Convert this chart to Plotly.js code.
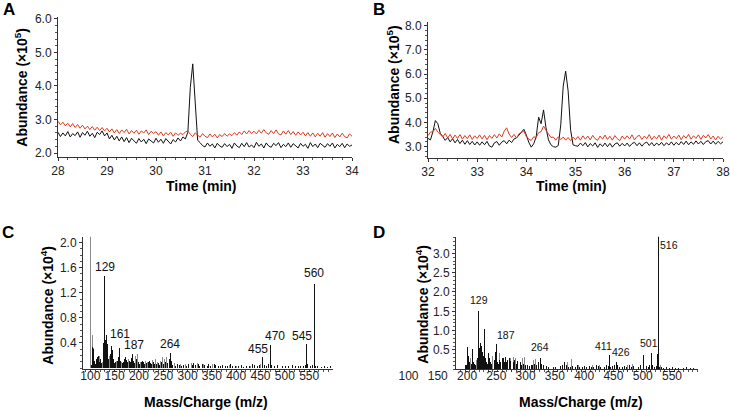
<!DOCTYPE html>
<html><head><meta charset="utf-8">
<script src="https://cdn.plot.ly/plotly-3.0.1.min.js"></script>
<style>html,body{margin:0;padding:0;background:#fff;} #chart{width:730px;height:411px;}</style>
</head><body><div id="chart"></div>
<script>
// ---------- DATA ----------
// Panel A chromatogram (Abundance x10^5), time 28..34 min, step 0.05
const timeA0 = 28, timeStepA = 0.05;
const abundA_black = [
2.62,2.49,2.60,2.51,2.64,2.48,2.58,2.52,2.63,2.47,2.61,2.53,2.65,2.50,2.59,2.46,2.62,2.55,2.66,2.51,2.60,
2.42,2.53,2.39,2.50,2.36,2.48,2.34,2.46,2.31,2.44,2.37,2.29,2.43,2.33,2.41,2.28,2.42,2.35,2.30,2.44,
2.32,2.41,2.29,2.43,2.34,2.27,2.40,2.33,2.45,2.36,2.48,2.42,
2.62,3.95,4.66,3.35,2.38,
2.31,2.22,2.18,2.30,2.20,2.27,2.15,2.29,2.21,2.17,2.28,
2.19,2.26,2.14,2.30,2.21,2.16,2.29,2.19,2.31,2.18,
2.24,2.16,2.32,2.20,2.27,2.15,2.30,2.21,2.17,2.29,
2.22,2.31,2.16,2.26,2.19,2.30,2.17,2.28,2.21,2.15,
2.29,2.20,2.26,2.14,2.31,2.19,2.27,2.16,2.29,2.22,
2.17,2.28,2.20,2.30,2.15,2.26,2.19,2.29,2.16,2.27,
2.20,2.24];
const abundA_red = [
2.95,2.84,2.92,2.81,2.89,2.78,2.88,2.76,2.85,2.74,2.83,2.72,2.80,2.70,2.79,2.68,2.77,2.67,2.76,2.66,2.74,
2.63,2.72,2.60,2.70,2.58,2.69,2.61,2.71,2.57,2.67,2.59,2.68,2.56,2.66,2.60,2.69,2.55,2.65,2.58,2.64,
2.53,2.63,2.51,2.61,2.54,2.62,2.50,2.60,2.53,2.59,2.55,2.63,2.66,2.56,2.49,2.60,2.52,2.47,2.58,2.50,
2.46,2.57,2.48,2.56,2.45,2.55,2.49,2.58,2.50,2.57,2.52,2.61,2.53,2.63,2.55,2.66,2.57,2.67,2.58,2.65,
2.57,2.68,2.59,2.70,2.60,2.56,2.67,2.58,2.69,2.57,2.54,2.66,2.56,2.67,2.55,2.64,2.53,2.63,2.54,2.62,
2.51,2.61,2.50,2.60,2.48,2.59,2.50,2.61,2.47,2.58,2.49,2.60,2.46,2.57,2.48,2.59,2.49,2.45,2.57,2.50];

// Panel B chromatogram (Abundance x10^5), time 32..38 min, step 0.05
const timeB0 = 32, timeStepB = 0.05;
const abundB_black = [
3.34,3.28,3.62,4.08,3.95,3.55,3.42,3.26,3.38,3.20,3.33,3.16,3.30,3.13,3.27,3.10,3.25,3.09,3.22,3.07,3.20,
3.06,3.20,3.08,3.22,3.03,2.98,3.16,3.21,3.06,3.19,3.25,3.12,3.27,3.17,3.32,3.36,3.47,3.58,3.72,3.48,
3.18,2.98,3.12,3.40,4.22,3.95,4.52,3.78,3.28,3.08,3.00,2.98,3.05,3.90,5.50,6.12,5.30,3.70,3.08,3.04,
3.02,3.15,3.04,3.17,2.99,3.13,3.03,3.16,2.97,3.12,3.01,3.15,3.00,3.14,2.98,3.11,3.16,3.02,3.14,3.03,
3.15,3.01,3.13,3.18,3.04,3.16,3.02,3.14,3.19,3.05,3.17,3.03,3.15,3.06,3.18,3.04,3.16,3.07,3.20,3.06,
3.18,3.07,3.21,3.09,3.23,3.08,3.20,3.10,3.24,3.11,3.22,3.09,3.21,3.25,3.11,3.23,3.10,3.22,3.12,3.20];
const abundB_red = [
3.46,3.60,3.62,3.76,3.60,3.48,3.40,3.55,3.36,3.51,3.32,3.48,3.34,3.50,3.31,3.46,3.33,3.49,3.30,3.45,3.34,
3.49,3.32,3.47,3.29,3.46,3.34,3.50,3.36,3.53,3.40,3.64,3.78,3.52,3.38,3.51,3.36,3.53,3.58,3.65,3.42,
3.31,3.26,3.41,3.38,3.58,3.62,3.85,3.68,3.55,3.38,3.40,3.27,3.41,3.29,3.40,3.27,3.38,3.25,3.39,3.29,
3.42,3.27,3.45,3.31,3.44,3.28,3.47,3.33,3.26,3.44,3.31,3.48,3.30,3.43,3.27,3.46,3.33,3.25,3.44,3.31,
3.45,3.32,3.49,3.28,3.42,3.47,3.30,3.44,3.33,3.50,3.29,3.43,3.32,3.48,3.27,3.45,3.34,3.51,3.31,3.44,
3.33,3.48,3.29,3.46,3.35,3.51,3.31,3.45,3.34,3.49,3.30,3.47,3.36,3.50,3.32,3.44,3.28,3.43,3.31,3.41];

// Panel C mass spectrum [m/z, abundance x10^4]
const specC_black = [
[102,0.05],[104,0.34],[106,0.30],[108,0.12],[110,0.06],[113,0.15],[115,0.18],[117,0.20],[119,0.10],[121,0.14],
[123,0.08],[127,0.40],[129,1.47],[131,0.45],[133,0.52],[135,0.38],[137,0.15],[141,0.22],[143,0.35],[145,0.28],
[147,0.14],[149,0.08],[151,0.10],[155,0.12],[157,0.18],[159,0.16],[161,0.32],[163,0.12],[167,0.08],[169,0.10],
[171,0.14],[173,0.18],[175,0.13],[177,0.09],[181,0.12],[183,0.10],[185,0.16],[187,0.22],[189,0.12],[191,0.08],
[195,0.14],[199,0.10],[201,0.07],[205,0.09],[207,0.12],[209,0.10],[211,0.06],[215,0.08],[219,0.10],[221,0.12],
[223,0.08],[225,0.06],[229,0.09],[231,0.07],[233,0.10],[237,0.06],[241,0.08],[243,0.05],[247,0.09],[251,0.07],
[255,0.10],[259,0.08],[262,0.14],[264,0.24],[266,0.12],[270,0.05],[275,0.04],[279,0.06],[283,0.05],[287,0.03],
[292,0.05],[297,0.04],[301,0.06],[305,0.04],[310,0.05],[313,0.08],[317,0.05],[322,0.06],[325,0.04],[330,0.07],
[335,0.05],[340,0.04],[344,0.06],[348,0.03],[355,0.07],[358,0.05],[363,0.04],[368,0.03],[372,0.05],[378,0.03],
[383,0.04],[388,0.06],[393,0.03],[398,0.04],[405,0.03],[410,0.05],[415,0.02],[421,0.04],[428,0.03],[433,0.06],
[438,0.05],[443,0.04],[448,0.05],[453,0.08],[455,0.17],[458,0.05],[462,0.04],[466,0.06],[470,0.37],[473,0.05],
[478,0.03],[484,0.05],[490,0.04],[496,0.03],[502,0.04],[508,0.03],[515,0.05],[522,0.04],[528,0.03],[533,0.04],
[538,0.03],[542,0.05],[545,0.39],[547,0.06],[552,0.03],[556,0.05],[560,1.34],[563,0.04],[568,0.03],[575,0.02],
[582,0.03],[588,0.02],[594,0.04]];
const specC_gray = [
[100,2.30],[105,0.53],[107,0.32],[112,0.10],[118,0.20],[125,0.10],[130,0.30],[139,0.20],[153,0.12],[165,0.10],
[179,0.15],[193,0.20],[197,0.22],[203,0.10],[213,0.12],[217,0.10],[227,0.13],[235,0.14],[239,0.10],[245,0.12],
[249,0.17],[253,0.15],[257,0.18],[268,0.18],[273,0.08],[285,0.06],[295,0.06],[308,0.08],[320,0.08],[332,0.06],
[352,0.06],[386,0.05],[400,0.04],[430,0.04],[450,0.06],[459,0.04],[544,0.10],[561,0.80]];
const peakLabelsC = ['129','161','187','264','455','470','545','560'];
const peakLabelXC = [130, 161, 189, 264, 445, 480, 535, 560];
const peakLabelYC = [1.61, 0.55, 0.36, 0.38, 0.31, 0.51, 0.51, 1.51];

// Panel D mass spectrum [m/z, abundance x10^4]
const specD_black = [
[100,0.12],[103,0.10],[106,0.58],[108,0.35],[110,0.20],[113,0.15],[115,0.52],[117,0.25],[119,0.20],[121,0.15],
[123,0.10],[126,0.30],[129,1.51],[131,0.55],[133,0.69],[135,0.60],[137,0.45],[139,0.35],[141,1.04],[143,0.30],
[145,0.40],[147,0.20],[149,0.15],[151,0.42],[153,0.30],[155,0.20],[157,0.15],[160,0.12],[163,0.25],[165,0.45],
[167,0.65],[169,0.20],[171,0.15],[174,0.25],[177,0.20],[180,0.28],[183,0.30],[185,0.20],[187,0.32],[189,0.18],
[192,0.25],[195,0.30],[198,0.22],[201,0.30],[204,0.18],[207,0.25],[210,0.15],[213,0.22],[216,0.12],[219,0.20],
[222,0.10],[226,0.15],[230,0.12],[234,0.10],[238,0.08],[242,0.12],[246,0.10],[250,0.14],[254,0.12],[258,0.20],
[262,0.29],[265,0.15],[268,0.12],[272,0.10],[276,0.08],[280,0.06],[285,0.08],[290,0.05],[295,0.07],[300,0.06],
[305,0.08],[310,0.12],[314,0.18],[318,0.10],[322,0.06],[327,0.05],[332,0.08],[337,0.06],[342,0.10],[347,0.07],
[352,0.05],[357,0.08],[362,0.06],[367,0.09],[372,0.05],[377,0.07],[382,0.10],[387,0.08],[392,0.06],[397,0.10],
[401,0.07],[405,0.12],[408,0.08],[411,0.38],[414,0.06],[418,0.08],[422,0.10],[426,0.20],[429,0.12],[433,0.07],
[438,0.05],[443,0.08],[448,0.06],[453,0.10],[458,0.05],[463,0.08],[468,0.06],[473,0.07],[478,0.10],[484,0.36],
[490,0.08],[495,0.06],[498,0.12],[501,0.42],[504,0.10],[508,0.06],[512,0.08],[514,0.40],[516,3.50],[519,0.06],
[523,0.05],[528,0.04],[533,0.06],[540,0.03],[547,0.05],[553,0.03],[560,0.04],[570,0.03],[577,0.05],[585,0.03],
[592,0.04]];
const specD_gray = [
[104,0.35],[112,0.30],[125,0.25],[132,0.30],[158,0.35],[175,0.43],[197,0.30],[205,0.32],[209,0.30],[223,0.30],
[227,0.32],[248,0.25],[252,0.27],[263,0.28],[320,0.20],[328,0.27],[330,0.27],[345,0.10],[375,0.10],[390,0.12],
[427,0.22],[450,0.12],[460,0.15],[517,1.32],[520,0.10]];
const peakLabelsD = ['129','187','264','411','426','501','516'];
const peakLabelXD = [130, 188, 262, 399, 435, 496, 540];
const peakLabelYD = [1.79, 0.89, 0.57, 0.60, 0.46, 0.67, 3.21];

// Axis ticks
const timeTicksA = [28,29,30,31,32,33,34];
const timeTicksB = [32,33,34,35,36,37,38];
const abundTicksA = [2,3,4,5,6];
const abundTicksB = [3,4,5,6,7,8];
const abundTicksC = [0.4,0.8,1.2,1.6,2.0];
const abundTicksD = [0.5,1.0,1.5,2.0,2.5,3.0];
const mzTicks = [100,150,200,250,300,350,400,450,500,550];

// ---------- LAYOUT HELPERS ----------
const W = 730, H = 411;
const px = v => v / W;
const py = v => 1 - v / H;
const FONT = 'Liberation Sans, Arial, Helvetica, sans-serif';
const RED = '#e2381e', BLK = '#111111', GRAY = '#8a8a8a';

function axisBase(extra) {
  return Object.assign({
    showline: true, linecolor: '#333', linewidth: 1,
    ticks: 'outside', ticklen: 3, tickcolor: '#333', tickwidth: 1,
    showgrid: false, zeroline: false, fixedrange: true,
    tickfont: {family: FONT, size: 12, color: '#222'}
  }, extra);
}

const traces = [
  {type:'scatter', mode:'lines', x0: timeA0, dx: timeStepA, y: abundA_black, xaxis:'x', yaxis:'y', line:{color:BLK, width:1}, hoverinfo:'skip'},
  {type:'scatter', mode:'lines', x0: timeA0, dx: timeStepA, y: abundA_red, xaxis:'x', yaxis:'y', line:{color:RED, width:1}, hoverinfo:'skip'},
  {type:'scatter', mode:'lines', x0: timeB0, dx: timeStepB, y: abundB_black, xaxis:'x2', yaxis:'y2', line:{color:BLK, width:1}, hoverinfo:'skip'},
  {type:'scatter', mode:'lines', x0: timeB0, dx: timeStepB, y: abundB_red, xaxis:'x2', yaxis:'y2', line:{color:RED, width:1}, hoverinfo:'skip'},
  {type:'bar', x: specC_gray.map(p=>p[0]), y: specC_gray.map(p=>p[1]), width: 2, xaxis:'x3', yaxis:'y3', marker:{color:GRAY, line:{width:0}}, hoverinfo:'skip'},
  {type:'bar', x: specC_black.map(p=>p[0]), y: specC_black.map(p=>p[1]), width: 2, xaxis:'x3', yaxis:'y3', marker:{color:BLK, line:{width:0}}, hoverinfo:'skip'},
  {type:'bar', x: specD_gray.map(p=>p[0]), y: specD_gray.map(p=>p[1]), width: 2, xaxis:'x4', yaxis:'y4', marker:{color:GRAY, line:{width:0}}, hoverinfo:'skip'},
  {type:'bar', x: specD_black.map(p=>p[0]), y: specD_black.map(p=>p[1]), width: 2, xaxis:'x4', yaxis:'y4', marker:{color:BLK, line:{width:0}}, hoverinfo:'skip'},
  // carrier for panel D's separately placed m/z tick labels
  {type:'scatter', mode:'none', x: mzTicks, y: mzTicks.map(()=>0), xaxis:'x5', yaxis:'y4', hoverinfo:'skip'}
];

const annotations = [];
function addText(text, x, y, opts) {
  annotations.push(Object.assign({text, x, y, xref:'paper', yref:'paper', showarrow:false,
    xanchor:'center', yanchor:'middle', font:{family:FONT, size:14, color:'#000'}}, opts||{}));
}
// panel letters
addText('<b>A</b>', px(8.5), py(9.5), {font:{family:FONT, size:17, color:'#000'}});
addText('<b>B</b>', px(378.5), py(9.5), {font:{family:FONT, size:17, color:'#000'}});
addText('<b>C</b>', px(8), py(232), {font:{family:FONT, size:17, color:'#000'}});
addText('<b>D</b>', px(378.5), py(232), {font:{family:FONT, size:17, color:'#000'}});
// axis titles
addText('<b>Time (min)</b>', px(201.7), py(186));
addText('<b>Time (min)</b>', px(571.7), py(186));
addText('<b>Mass/Charge (m/z)</b>', px(205.7), py(401.7));
addText('<b>Mass/Charge (m/z)</b>', px(580.7), py(401.7));
addText('<b>Abundance (×10<sup>5</sup>)</b>', px(20.7), py(87), {textangle:-90});
addText('<b>Abundance (×10<sup>5</sup>)</b>', px(393), py(84), {textangle:-90});
addText('<b>Abundance (×10<sup>4</sup>)</b>', px(46.7), py(305), {textangle:-90});
addText('<b>Abundance (×10<sup>4</sup>)</b>', px(421.7), py(304), {textangle:-90});
// peak labels
peakLabelsC.forEach((t,i)=>annotations.push({text:t, x:peakLabelXC[i], y:peakLabelYC[i], xref:'x3', yref:'y3',
  showarrow:false, xanchor:'center', yanchor:'middle', borderpad:0, font:{family:FONT, size:12, color:'#111'}}));
peakLabelsD.forEach((t,i)=>annotations.push({text:t, x:peakLabelXD[i], y:peakLabelYD[i], xref:'x4', yref:'y4',
  showarrow:false, xanchor:'center', yanchor:'middle', borderpad:0, font:{family:FONT, size:10.5, color:'#111'}}));

const layout = {
  width: W, height: H, margin:{l:0, r:0, t:0, b:0},
  paper_bgcolor:'#fff', plot_bgcolor:'rgba(0,0,0,0)',
  showlegend:false, barmode:'overlay', bargap:0,
  font:{family:FONT},
  xaxis: axisBase({domain:[px(58), px(352)], range:[28,34], anchor:'y', tickvals: timeTicksA,
    minor:{dtick:0.2, ticks:'outside', ticklen:2, tickcolor:'#555'}}),
  yaxis: axisBase({domain:[py(156.7), py(17.3)], range:[1.89,6.05], anchor:'x', tickvals: abundTicksA, tickformat:'.1f',
    minor:{dtick:0.2, ticks:'outside', ticklen:2, tickcolor:'#555'}}),
  xaxis2: axisBase({domain:[px(428), px(723)], range:[32,38], anchor:'y2', tickvals: timeTicksB,
    minor:{dtick:0.2, ticks:'outside', ticklen:2, tickcolor:'#555'}}),
  yaxis2: axisBase({domain:[py(157.7), py(21.7)], range:[2.545,8.165], anchor:'x2', tickvals: abundTicksB, tickformat:'.1f',
    minor:{dtick:0.2, ticks:'outside', ticklen:2, tickcolor:'#555'}}),
  xaxis3: axisBase({domain:[px(83), px(333)], range:[85,599], anchor:'y3', tickvals: mzTicks,
    ticklen:2, ticklabelstandoff:-7, minor:{dtick:10, ticks:'outside', ticklen:2, tickcolor:'#555'}}),
  yaxis3: axisBase({domain:[py(369.3), py(236.7)], range:[-0.02,2.094], anchor:'x3', tickvals: abundTicksC, tickformat:'.1f',
    minor:{dtick:0.1, ticks:'outside', ticklen:2, tickcolor:'#555'}}),
  xaxis4: axisBase({domain:[px(456), px(698)], range:[80.4,601.5], anchor:'y4', showticklabels:false, tickvals: mzTicks,
    ticklen:2, minor:{dtick:10, ticks:'outside', ticklen:2, tickcolor:'#555'}}),
  yaxis4: axisBase({domain:[py(369.3), py(236.7)], range:[0,3.43], anchor:'x4', tickvals: abundTicksD, tickformat:'.1f',
    minor:{dtick:0.1, ticks:'outside', ticklen:2, tickcolor:'#555'}}),
  xaxis5: axisBase({domain:[px(405.57), px(674.93)], range:[95,555], anchor:'free', position: py(369.3),
    showline:false, tickvals: mzTicks, ticklen:2, ticklabelstandoff:-7, tickcolor:'rgba(0,0,0,0)'}),
  annotations
};

Plotly.newPlot('chart', traces, layout, {staticPlot:true, displayModeBar:false});
</script></body></html>
